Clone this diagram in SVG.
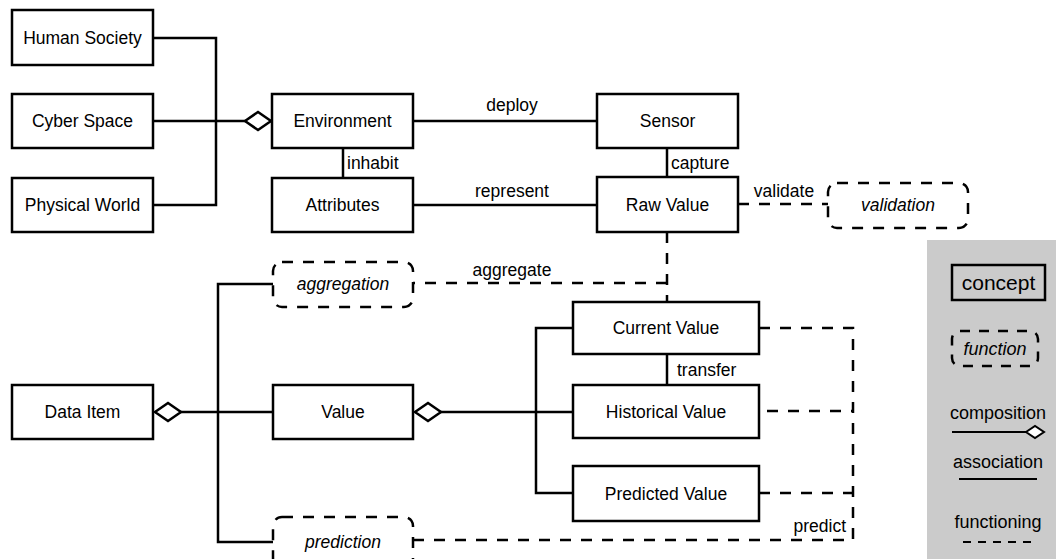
<svg xmlns="http://www.w3.org/2000/svg" width="1056" height="559" viewBox="0 0 1056 559">
  <style>
    text { font-family: "Liberation Sans", Arial, Helvetica, sans-serif; font-size: 17.5px; fill: #000; }
    .c { text-anchor: middle; }
    .it { font-style: italic; }
    .concept { fill: #fff; stroke: #000; stroke-width: 2.5; }
    .func { fill: #fff; stroke: #000; stroke-width: 2.5; stroke-dasharray: 11 10; }
    .assoc { fill: none; stroke: #000; stroke-width: 2.5; }
    .dash { fill: none; stroke: #000; stroke-width: 2.5; stroke-dasharray: 11 10; }
  </style>
  <defs>
    <marker id="comp" viewBox="0 0 28 20" markerWidth="28" markerHeight="20" refX="27" refY="10" markerUnits="userSpaceOnUse" orient="auto" overflow="visible">
      <path d="M1,10 L14,1 L27,10 L14,19 Z" fill="#fff" stroke="#000" stroke-width="2.5" stroke-linejoin="miter"/>
    </marker>
  </defs>
  <rect width="1056" height="559" fill="#fff"/>

  <!-- connectors -->
  <g id="connectors">
    <path class="assoc" d="M153,38 H216 V205 H153"/>
    <path class="assoc" d="M153,121 H271" marker-end="url(#comp)"/>
    <path class="assoc" d="M413,121 H597"/>
    <path class="assoc" d="M343,148 V178"/>
    <path class="assoc" d="M667,148 V177"/>
    <path class="assoc" d="M413,205 H597"/>
    <path class="assoc" d="M273,284 H218 V542 H273"/>
    <path class="assoc" d="M273,412 H155" marker-end="url(#comp)"/>
    <path class="assoc" d="M573,412 H415" marker-end="url(#comp)"/>
    <path class="assoc" d="M573,328 H536 V493 H573"/>
    <path class="assoc" d="M667,354 V385"/>
    <path class="dash" d="M738,204 H828"/>
    <path class="dash" d="M667,232 V302"/>
    <path class="dash" d="M667,283 H413"/>
    <path class="dash" d="M759,328 H853 V540 H413"/>
    <path class="dash" d="M759,411 H853" stroke-dashoffset="-8"/>
    <path class="dash" d="M759,493 H853"/>
    <text x="512" y="111" class="c">deploy</text>
    <text x="347" y="169">inhabit</text>
    <text x="671" y="169">capture</text>
    <text x="512" y="197" class="c">represent</text>
    <text x="784" y="197" class="c">validate</text>
    <text x="512" y="276" class="c">aggregate</text>
    <text x="677" y="376">transfer</text>
    <text x="846" y="532" text-anchor="end">predict</text>
  </g>

  <!-- concepts -->
  <g id="human-society"><rect class="concept" x="12" y="10" width="141" height="55"/><text x="82.5" y="44" class="c">Human Society</text></g>
  <g id="cyber-space"><rect class="concept" x="12" y="94" width="141" height="54"/><text x="82.5" y="127" class="c">Cyber Space</text></g>
  <g id="physical-world"><rect class="concept" x="12" y="178" width="141" height="54"/><text x="82.5" y="211" class="c">Physical World</text></g>
  <g id="environment"><rect class="concept" x="272" y="94" width="141" height="54"/><text x="342.5" y="127" class="c">Environment</text></g>
  <g id="attributes"><rect class="concept" x="272" y="178" width="141" height="54"/><text x="342.5" y="211" class="c">Attributes</text></g>
  <g id="sensor"><rect class="concept" x="597" y="94" width="141" height="54"/><text x="667.5" y="127" class="c">Sensor</text></g>
  <g id="raw-value"><rect class="concept" x="597" y="177" width="141" height="55"/><text x="667.5" y="211" class="c">Raw Value</text></g>
  <g id="data-item"><rect class="concept" x="12" y="385" width="141" height="54"/><text x="82.5" y="418" class="c">Data Item</text></g>
  <g id="value"><rect class="concept" x="273" y="385" width="140" height="54"/><text x="343" y="418" class="c">Value</text></g>
  <g id="current-value"><rect class="concept" x="573" y="302" width="186" height="52"/><text x="666" y="334" class="c">Current Value</text></g>
  <g id="historical-value"><rect class="concept" x="573" y="385" width="186" height="53"/><text x="666" y="418" class="c">Historical Value</text></g>
  <g id="predicted-value"><rect class="concept" x="573" y="466" width="186" height="55"/><text x="666" y="500" class="c">Predicted Value</text></g>

  <!-- functions -->
  <g id="validation"><rect class="func" x="828" y="183" width="140" height="45" rx="9"/><text x="898" y="211" class="c it">validation</text></g>
  <g id="aggregation"><rect class="func" x="273" y="262" width="140" height="45" rx="9"/><text x="343" y="290" class="c it">aggregation</text></g>
  <g id="prediction"><rect class="func" x="273" y="517" width="140" height="50" rx="9"/><text x="343" y="548" class="c it">prediction</text></g>

  <!-- legend -->
  <g id="legend">
    <rect x="927" y="240" width="129" height="319" fill="#cbcbcb"/>
    <rect x="952" y="265" width="93" height="35" fill="none" stroke="#000" stroke-width="2.5"/>
    <text x="998.5" y="290" class="c" style="font-size:21px">concept</text>
    <rect x="952" y="331" width="86" height="35" rx="8" fill="none" stroke="#000" stroke-width="2.5" stroke-dasharray="10 9"/>
    <text x="995" y="355" class="c it" style="font-size:18px">function</text>
    <text x="998" y="419" class="c" style="font-size:18px">composition</text>
    <path d="M952,432 H1026" stroke="#000" stroke-width="2"/>
    <path d="M1026,432 L1035,426 L1044,432 L1035,438 Z" fill="#fff" stroke="#000" stroke-width="2"/>
    <text x="998" y="468" class="c" style="font-size:18px">association</text>
    <path d="M959,479 H1037" stroke="#000" stroke-width="2"/>
    <text x="998" y="528" class="c" style="font-size:18px">functioning</text>
    <path d="M963,542 H1032" stroke="#000" stroke-width="2" stroke-dasharray="8 7"/>
  </g>
</svg>
